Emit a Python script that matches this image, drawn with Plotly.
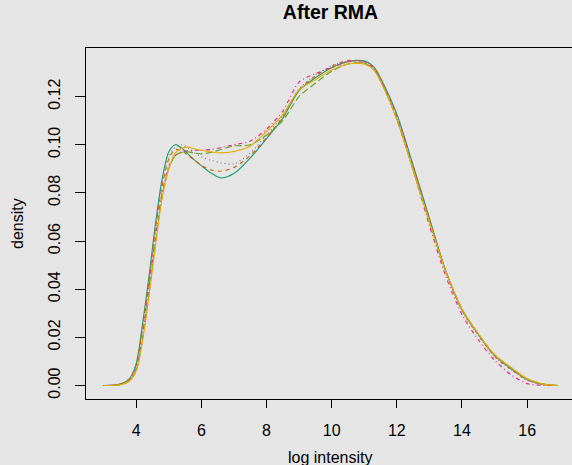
import plotly.graph_objects as go

# Kernel density estimates of log2 intensities for six arrays after RMA
log_intensity = [3.0, 3.5, 3.8, 4.0, 4.2, 4.4, 4.6, 4.8, 5.0, 5.2, 5.4, 5.6, 5.8,
                 6.0, 6.3, 6.6, 7.0, 7.5, 8.0, 8.5, 9.0, 9.5, 10.0, 10.5, 11.0,
                 11.3, 11.6, 12.0, 12.5, 13.0, 13.5, 14.0, 14.5, 15.0, 15.5,
                 16.0, 16.5, 16.95]

sample_1 = [0.0, 0.0006, 0.003, 0.009, 0.026, 0.046, 0.068, 0.086, 0.097, 0.100,
            0.0985, 0.096, 0.0935, 0.0913, 0.0882, 0.0862, 0.088, 0.0945, 0.1025,
            0.111, 0.1225, 0.1278, 0.132, 0.1345, 0.1348, 0.1322, 0.125, 0.1128,
            0.0915, 0.0695, 0.0478, 0.0315, 0.0213, 0.0125, 0.0071, 0.0025,
            0.0005, 0.0]
sample_2 = [0.0, 0.0005, 0.0028, 0.0085, 0.024, 0.044, 0.066, 0.083, 0.094, 0.098,
            0.0975, 0.0955, 0.0935, 0.0915, 0.0895, 0.089, 0.0905, 0.0955, 0.103,
            0.1115, 0.1228, 0.1285, 0.1325, 0.135, 0.1345, 0.132, 0.1245, 0.112,
            0.091, 0.069, 0.0475, 0.0313, 0.021, 0.0122, 0.0068, 0.0024, 0.0004,
            0.0]
sample_3 = [0.0, 0.0005, 0.0027, 0.0083, 0.024, 0.044, 0.066, 0.084, 0.095, 0.099,
            0.1, 0.0985, 0.0965, 0.095, 0.0935, 0.0925, 0.092, 0.0965, 0.104,
            0.112, 0.1232, 0.1288, 0.1328, 0.1348, 0.1345, 0.132, 0.1245, 0.1122,
            0.0912, 0.069, 0.0475, 0.0312, 0.0208, 0.012, 0.0066, 0.0022, 0.0004,
            0.0]
sample_4 = [0.0, 0.0004, 0.0022, 0.007, 0.021, 0.041, 0.062, 0.080, 0.091, 0.0955,
            0.097, 0.0975, 0.0977, 0.0978, 0.098, 0.0988, 0.100, 0.1015, 0.1065,
            0.114, 0.126, 0.1295, 0.132, 0.1345, 0.134, 0.1315, 0.124, 0.111,
            0.0895, 0.0665, 0.0455, 0.0295, 0.019, 0.0105, 0.0045, 0.0008,
            0.0001, 0.0]
sample_5 = [0.0, 0.0003, 0.002, 0.0062, 0.0195, 0.039, 0.060, 0.079, 0.090, 0.0955,
            0.0968, 0.097, 0.0965, 0.0962, 0.0968, 0.098, 0.0995, 0.100, 0.104,
            0.110, 0.120, 0.1255, 0.1305, 0.1335, 0.1338, 0.1312, 0.1238, 0.1105,
            0.0895, 0.068, 0.0475, 0.0318, 0.0215, 0.0128, 0.0075, 0.0028,
            0.0006, 0.0]
sample_6 = [0.0, 0.0003, 0.002, 0.006, 0.019, 0.038, 0.059, 0.078, 0.090, 0.0965,
            0.0985, 0.099, 0.0982, 0.0977, 0.097, 0.0966, 0.0972, 0.0995, 0.1055,
            0.1125, 0.1228, 0.127, 0.131, 0.1335, 0.1335, 0.131, 0.1235, 0.1105,
            0.0895, 0.068, 0.0475, 0.0318, 0.0215, 0.0128, 0.0075, 0.0028,
            0.0006, 0.0]

x_ticks = [4, 6, 8, 10, 12, 14, 16]
y_ticks = [0.00, 0.02, 0.04, 0.06, 0.08, 0.10, 0.12]
y_tick_text = ["0.00", "0.02", "0.04", "0.06", "0.08", "0.10", "0.12"]

series = [
    ("Sample 1", sample_1, "#1B9E77", "solid"),
    ("Sample 2", sample_2, "#D95F02", "4px,4px"),
    ("Sample 3", sample_3, "#7570B3", "1px,3px"),
    ("Sample 4", sample_4, "#E7298A", "1px,3px,4px,3px"),
    ("Sample 5", sample_5, "#66A61E", "7px,3px"),
    ("Sample 6", sample_6, "#E6AB02", "solid"),
]

fig = go.Figure()
for name, dens, color, dash in series:
    fig.add_trace(go.Scatter(
        x=log_intensity, y=dens, name=name, mode="lines",
        line=dict(color=color, width=1.15, dash=dash, shape="spline", smoothing=0.8),
    ))

font = "Liberation Sans, Arial, sans-serif"
bg = "#e5e5e5"

fig.update_layout(
    width=572, height=465,
    margin=dict(l=86, r=0, t=48, b=66),
    paper_bgcolor=bg, plot_bgcolor=bg,
    showlegend=False,
    font=dict(family=font, size=16, color="black"),
    title=dict(text="<b>After RMA</b>", x=330.5 / 572, xanchor="center",
               y=1 - 12.5 / 465, yanchor="middle",
               font=dict(family=font, size=19.5, color="black")),
    xaxis=dict(range=[2.46, 2.46 + 486 / 32.58], tickvals=x_ticks,
               ticks="outside", ticklen=8, tickwidth=1, tickcolor="black",
               showline=True, linecolor="black", linewidth=1, mirror=True,
               showgrid=False, zeroline=False, ticklabelstandoff=9,
               tickfont=dict(size=16)),
    yaxis=dict(range=[-0.0056, 0.14016], tickvals=y_ticks, ticktext=y_tick_text,
               ticks="outside", ticklen=10, tickwidth=1, tickcolor="black",
               showline=True, linecolor="black", linewidth=1,
               showgrid=False, zeroline=False, tickangle=-90,
               ticklabelstandoff=9, tickfont=dict(size=16)),
    annotations=[
        dict(text="log intensity", xref="paper", yref="paper",
             x=(330.5 - 86) / 486, y=(399 - 457) / 351,
             xanchor="center", yanchor="middle", showarrow=False,
             font=dict(size=16)),
        dict(text="density", xref="paper", yref="paper",
             x=(17.5 - 86) / 486, y=0.5, textangle=-90,
             xanchor="center", yanchor="middle", showarrow=False,
             font=dict(size=16)),
    ],
)

fig.write_html("out.html")
